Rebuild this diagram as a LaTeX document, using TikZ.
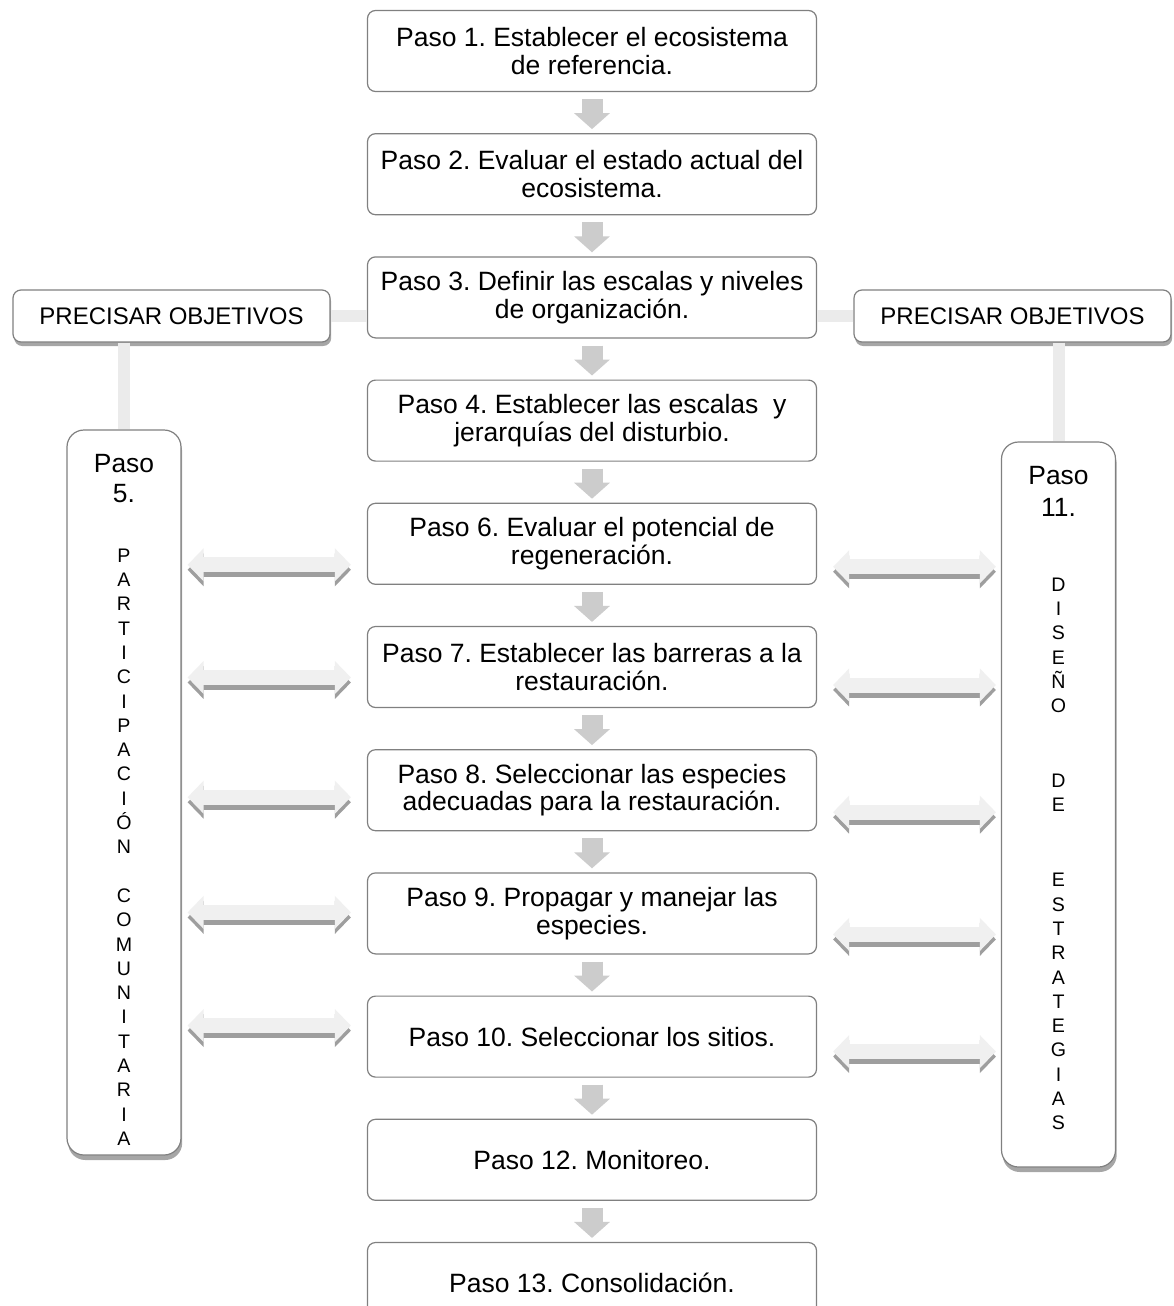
\documentclass[tikz,border=0pt]{standalone}
\usepackage{fontspec}
\setmainfont{Liberation Sans}
\frenchspacing
\usetikzlibrary{positioning, shadows, arrows.meta}

\tikzset{
  stepbox/.style={rectangle, draw=black!50, line width=0.6pt, rounded corners=4pt, fill=white,
    minimum width=224.5pt, minimum height=40.5pt, align=center, inner sep=2pt,
    font=\fontsize{13.25}{13.75}\selectfont},
  goalbox/.style={rectangle, draw=black!50, line width=0.6pt, rounded corners=4pt, fill=white,
    minimum width=158.5pt, minimum height=26pt, inner sep=1pt,
    font=\fontsize{12}{14}\selectfont,
    drop shadow={shadow xshift=0.6pt, shadow yshift=-2pt, opacity=0.35, fill=black}},
  sidebox/.style={rectangle, draw=black!50, line width=0.6pt, rounded corners=8.5pt, fill=white,
    minimum width=57pt, minimum height=362.5pt, inner sep=0pt,
    drop shadow={shadow xshift=0.6pt, shadow yshift=-2.5pt, opacity=0.35, fill=black}},
  sidetext/.style={text width=50pt, align=center, inner sep=0pt},
  downarrow/.style={draw=black!20, line width=10.5pt,
    -{Triangle[width=17.5pt,length=8pt]}, shorten <=3.5pt, shorten >=2pt},
  link/.style={draw=black!8, line width=6pt},
  sidearrow/.style={draw=black!6, line width=7.5pt,
    {Triangle[width=16pt,length=8pt]}-{Triangle[width=16pt,length=8pt]}},
  sideshade/.style={sidearrow, draw=black!38, transform canvas={yshift=-2.5pt}}
}

\begin{document}
\begin{tikzpicture}[x=0.5pt, y=-0.5pt, node distance=20.5pt]
\clip (0,0) rectangle (1173,1306);
\fill[white] (0,0) rectangle (1173,1306);

% pasos centrales
\node[stepbox] (b1) at (592,51) {Paso 1. Establecer el ecosistema\\de referencia.};
\node[stepbox, below=of b1] (b2) {Paso 2. Evaluar el estado actual del\\ecosistema.};
\node[stepbox, below=of b2] (b3) {Paso 3. Definir las escalas y niveles\\de organización.};
\node[stepbox, below=of b3] (b4) {Paso 4. Establecer las escalas~ y\\jerarquías del disturbio.};
\node[stepbox, below=of b4] (b6) {Paso 6. Evaluar el potencial de\\regeneración.};
\node[stepbox, below=of b6] (b7) {Paso 7. Establecer las barreras a la\\restauración.};
\node[stepbox, below=of b7] (b8) {Paso 8. Seleccionar las especies\\adecuadas para la restauración.};
\node[stepbox, below=of b8] (b9) {Paso 9. Propagar y manejar las\\especies.};
\node[stepbox, below=of b9] (b10) {Paso 10. Seleccionar los sitios.};
\node[stepbox, below=of b10] (b12) {Paso 12. Monitoreo.};
\node[stepbox, below=of b12] (b13) {Paso 13. Consolidación.};

\foreach \a/\b in {b1/b2, b2/b3, b3/b4, b4/b6, b6/b7, b7/b8, b8/b9, b9/b10, b10/b12, b12/b13}
    \draw[downarrow] (\a) -- (\b);

% objetivos
\node[goalbox] (gl) at (171.5,316) {PRECISAR OBJETIVOS};
\node[goalbox] (gr) at (1012.5,316) {PRECISAR OBJETIVOS};

% columnas laterales
\node[sidebox] (p5) at (124,792.5) {};
\node[sidetext, below=12.5pt of p5.north] (p5t) {\parindent=0pt\parskip=0pt
  {\fontsize{13.2}{15}\selectfont Paso\\5.\par}\vspace{17.5pt}
  {\fontsize{9.8}{12.15}\selectfont P\\A\\R\\T\\I\\C\\I\\P\\A\\C\\I\\Ó\\N\\[12.15pt]C\\O\\M\\U\\N\\I\\T\\A\\R\\I\\A\par}};
\node[sidebox] (p11) at (1058.5,804.5) {};
\node[sidetext, below=12.5pt of p11.north] (p11t) {\parindent=0pt\parskip=0pt
  {\fontsize{13.2}{16}\selectfont Paso\\11.\par}\vspace{25pt}
  {\fontsize{9.8}{12.15}\selectfont D\\I\\S\\E\\Ñ\\O\\[25.3pt]D\\E\\[25.3pt]E\\S\\T\\R\\A\\T\\E\\G\\I\\A\\S\par}};

\draw[link] (gl.east) -- (gl.east -| b3.west);
\draw[link] (gr.west) -- (gr.west -| b3.east);
\draw[link] (gl.south -| p5.north) -- (p5.north);
\draw[link] (gr.south -| p11.north) -- (p11.north);

% flechas dobles
\foreach \b/\l/\r in {b6/-10.5/-11.5, b7/-5.25/-9, b8/-3.5/-11, b9/0.5/-10.5, b10/5.5/-7.5} {
    \draw[sideshade, shorten <=3pt, shorten >=8pt] ([yshift=\l pt]\b.west -| p5.east) -- ([yshift=\l pt]\b.west);
    \draw[sidearrow, shorten <=3pt, shorten >=8pt] ([yshift=\l pt]\b.west -| p5.east) -- ([yshift=\l pt]\b.west);
    \draw[sideshade, shorten <=8pt, shorten >=2.5pt] ([yshift=\r pt]\b.east) -- ([yshift=\r pt]\b.east -| p11.west);
    \draw[sidearrow, shorten <=8pt, shorten >=2.5pt] ([yshift=\r pt]\b.east) -- ([yshift=\r pt]\b.east -| p11.west);
}

\end{tikzpicture}
\end{document}
